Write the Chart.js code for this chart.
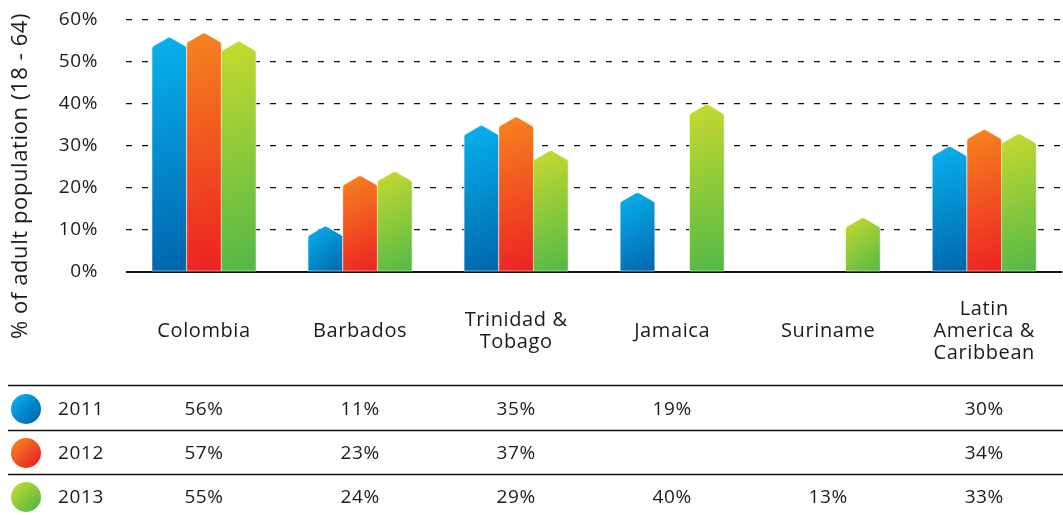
<!DOCTYPE html>
<html lang="en">
<head>
<meta charset="utf-8">
<title>Adult population</title>
<script src="https://cdn.jsdelivr.net/npm/chart.js@4.4.1/dist/chart.umd.min.js"></script>
<style>
  html, body { margin: 0; padding: 0; background: #fff; overflow: hidden; }
  #wrap { width: 1063px; height: 515px; overflow: hidden; }
</style>
</head>
<body>
<div id="wrap"><canvas id="chart" width="1072" height="515"></canvas></div>

<script>
// data
var categories = [['Colombia'], ['Barbados'], ['Trinidad &', 'Tobago'], ['Jamaica'], ['Suriname'], ['Latin', 'America &', 'Caribbean']];
var years = ['2011', '2012', '2013'];
var values2011 = [56, 11, 35, 19, null, 30];
var values2012 = [57, 23, 37, null, null, 34];
var values2013 = [55, 24, 29, 40, 13, 33];
var yTicks = [0, 10, 20, 30, 40, 50, 60];
var yTitle = '% of adult population (18 - 64)';

// gradient colours per series: [top-left, bottom-right]
var seriesColors = [
  ['#08b2ee', '#0061a9'],
  ['#f6841f', '#ec1c24'],
  ['#c7da2f', '#4cb748']
];

var FONT = '"Open Sans", sans-serif';
var TEXT = '#1b1b1b';

function gradient(ctx, x0, y0, x1, y1, cols) {
  var g = ctx.createLinearGradient(x0, y0, x1, y1);
  g.addColorStop(0, cols[0]);
  g.addColorStop(1, cols[1]);
  return g;
}

// a little tracking like the original typeface
var spacing = {
  id: 'spacing',
  beforeUpdate: function(chart) { chart.ctx.letterSpacing = '0.6px'; }
};

// arrow-topped bars drawn from the bar elements' geometry
var arrowBars = {
  id: 'arrowBars',
  afterDatasetsDraw: function(chart) {
    var ctx = chart.ctx;
    chart.data.datasets.forEach(function(ds, di) {
      var meta = chart.getDatasetMeta(di);
      meta.data.forEach(function(bar, i) {
        if (ds.data[i] == null) return;
        var p = bar.getProps(['x', 'y', 'base', 'width'], true);
        var l = p.x - p.width / 2, r = p.x + p.width / 2;
        var top = p.y, sh = p.y + 10, base = p.base;
        ctx.save();
        ctx.beginPath();
        ctx.moveTo(l, base);
        ctx.arcTo(l, sh, p.x, top, 3);
        ctx.arcTo(p.x, top, r, sh, 3);
        ctx.arcTo(r, sh, r, base, 3);
        ctx.lineTo(r, base);
        ctx.closePath();
        ctx.fillStyle = gradient(ctx, l, top, r + (base - top) * 0.15, base, seriesColors[di]);
        ctx.fill();
        ctx.strokeStyle = 'rgba(255,255,255,0.55)';
        ctx.lineWidth = 1;
        ctx.stroke();
        ctx.restore();
      });
    });
  }
};

// rotated y title and the data table below the chart
var extras = {
  id: 'extras',
  afterDraw: function(chart) {
    var ctx = chart.ctx;
    var x = chart.scales.x;
    ctx.save();
    ctx.translate(21, 176);
    ctx.rotate(-Math.PI / 2);
    ctx.font = '22px ' + FONT;
    ctx.fillStyle = TEXT;
    ctx.textAlign = 'center';
    ctx.textBaseline = 'middle';
    ctx.fillText(yTitle, 0, 0);
    ctx.restore();

    var rows = [values2011, values2012, values2013];
    var lineYs = [385.5, 430.5, 474.5];
    var rowYs = [409, 453, 497];
    ctx.save();
    ctx.strokeStyle = '#111';
    ctx.lineWidth = 1.5;
    lineYs.forEach(function(ly) {
      ctx.beginPath();
      ctx.moveTo(8, ly);
      ctx.lineTo(1063, ly);
      ctx.stroke();
    });
    rows.forEach(function(vals, ri) {
      var cy = rowYs[ri];
      ctx.beginPath();
      ctx.arc(26, cy, 15, 0, Math.PI * 2);
      ctx.fillStyle = gradient(ctx, 13, cy - 13, 39, cy + 13, seriesColors[ri]);
      ctx.fill();
      ctx.font = '19px ' + FONT;
      ctx.fillStyle = TEXT;
      ctx.textBaseline = 'middle';
      ctx.textAlign = 'left';
      ctx.fillText(years[ri], 58, cy + 1);
      ctx.textAlign = 'center';
      vals.forEach(function(v, i) {
        if (v == null) return;
        ctx.fillText(v + '%', x.getPixelForValue(i), cy + 1);
      });
    });
    ctx.restore();
  }
};

new Chart(document.getElementById('chart'), {
  type: 'bar',
  data: {
    labels: categories,
    datasets: [
      { label: years[0], data: values2011 },
      { label: years[1], data: values2012 },
      { label: years[2], data: values2013 }
    ].map(function(d) {
      d.backgroundColor = 'rgba(0,0,0,0)';
      d.borderWidth = 0;
      d.barPercentage = 1;
      d.categoryPercentage = 0.667;
      return d;
    })
  },
  options: {
    responsive: false,
    animation: false,
    layout: { padding: { top: 20, right: 0, left: 0, bottom: 0 } },
    plugins: { legend: { display: false }, tooltip: { enabled: false } },
    scales: {
      x: {
        grid: { display: false, drawTicks: false },
        border: { display: false },
        ticks: {
          font: { family: FONT, size: 20, lineHeight: 1.1 },
          color: TEXT,
          padding: 37,
          crossAlign: 'center',
          maxRotation: 0,
          autoSkip: false
        },
        afterFit: function(s) { s.height = 515 - 272; }
      },
      y: {
        min: 0,
        max: 60,
        afterBuildTicks: function(s) { s.ticks = yTicks.map(function(v) { return { value: v }; }); },
        grid: {
          color: '#111',
          drawTicks: false,
          lineWidth: function(c) { return c.tick && c.tick.value === 0 ? 2 : 1.3; }
        },
        border: {
          display: false,
          dash: function(c) { return c.tick && c.tick.value === 0 ? [] : [6, 10]; }
        },
        ticks: {
          font: { family: FONT, size: 19 },
          color: TEXT,
          padding: 28,
          callback: function(v) { return v + '%'; }
        },
        afterFit: function(s) {
          s.width = 126;
          s.paddingTop = 0;
          s.paddingBottom = 0;
        }
      }
    }
  },
  plugins: [spacing, arrowBars, extras]
});
</script>
</body>
</html>
